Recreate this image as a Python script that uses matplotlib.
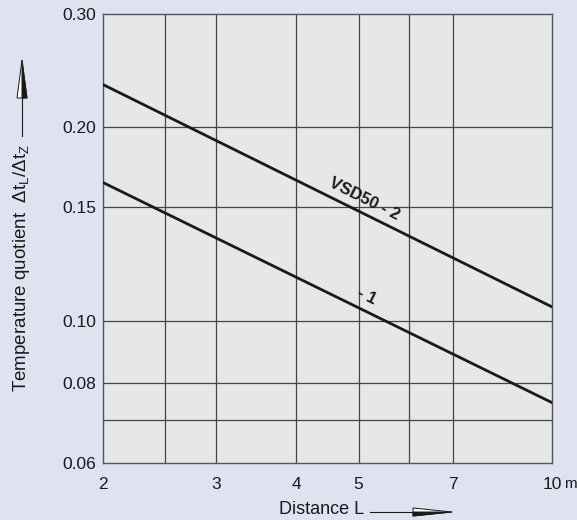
import matplotlib.pyplot as plt
from matplotlib.patches import Polygon
from matplotlib.ticker import FixedLocator, NullLocator

# data (log-log)
distance = [2, 10]
vsd50_2 = [0.233, 0.105]
vsd50_1 = [0.164, 0.0745]

x_ticks = [2, 3, 4, 5, 7, 10]
x_labels = ['2', '3', '4', '5', '7', '10']
x_grid = [2.5, 3, 4, 5, 6, 7]
y_ticks = [0.06, 0.08, 0.10, 0.15, 0.20, 0.30]
y_labels = ['0.06', '0.08', '0.10', '0.15', '0.20', '0.30']
y_grid = [0.07, 0.08, 0.10, 0.15, 0.20]

bg = '#dfe3f1'
face = '#e6e7e9'
ink = '#1a1a1a'

plt.rcParams['font.family'] = ['Liberation Sans', 'DejaVu Sans']
plt.rcParams['mathtext.fontset'] = 'custom'
plt.rcParams['mathtext.rm'] = 'Liberation Sans'
plt.rcParams['mathtext.it'] = 'Liberation Sans'

fig = plt.figure(figsize=(5.77, 5.20), dpi=100, facecolor=bg)
ax = fig.add_axes([0.1785, 0.1096, 0.7782, 0.8634], facecolor=face)
ax.set_xscale('log')
ax.set_yscale('log')
ax.set_xlim(2, 10)
ax.set_ylim(0.06, 0.30)

for gx in x_grid:
    ax.axvline(gx, color='#444444', lw=0.9, zorder=1)
for gy in y_grid:
    ax.axhline(gy, color='#444444', lw=0.9, zorder=1)

ax.plot(distance, vsd50_2, color=ink, lw=2.0, zorder=3)
ax.plot(distance, vsd50_1, color=ink, lw=2.0, zorder=3)

ax.text(5.10, 0.1545, 'VSD50 - 2', rotation=-26.4, ha='center', va='center',
        fontsize=12, fontweight='bold', color=ink, zorder=4)
ax.text(5.15, 0.109, '- 1', rotation=-26.4, ha='center', va='center',
        fontsize=12, fontweight='bold', color=ink, zorder=4)

ax.xaxis.set_major_locator(FixedLocator(x_ticks))
ax.xaxis.set_minor_locator(NullLocator())
ax.set_xticklabels(x_labels)
ax.yaxis.set_major_locator(FixedLocator(y_ticks))
ax.yaxis.set_minor_locator(NullLocator())
ax.set_yticklabels(y_labels)
ax.tick_params(length=0, labelsize=12.5, colors=ink)
ax.tick_params(axis='x', pad=10)
ax.tick_params(axis='y', pad=5)
for s in ax.spines.values():
    s.set_color('#555555')
    s.set_linewidth(1.0)

# unit after the last x tick
W, H = 577, 520
fig.text(570.5 / W, 1 - 484.5 / H, 'm', ha='center', va='center', fontsize=11, color=ink)

# axis labels with arrows, placed in figure pixels
fig.text(22 / W, 1 - 268 / H, r'Temperature quotient  $\Delta \mathregular{t_L}/\Delta \mathregular{t_Z}$',
         rotation=90, ha='center', va='center', fontsize=13.5, color=ink)
fig.add_artist(plt.Line2D([22 / W, 22 / W], [1 - 136 / H, 1 - 95 / H], color=ink, lw=0.8))
fig.add_artist(Polygon([(17 / W, 1 - 98 / H), (27 / W, 1 - 98 / H), (22 / W, 1 - 60 / H)],
                       closed=True, fc='white', ec=ink, lw=0.7))
fig.add_artist(Polygon([(22 / W, 1 - 98 / H), (27 / W, 1 - 98 / H), (22 / W, 1 - 60 / H)],
                       closed=True, fc=ink, ec=ink, lw=0.7))

fig.text(322 / W, 1 - 510 / H, 'Distance L', ha='center', va='center', fontsize=13, color=ink)
fig.add_artist(plt.Line2D([370 / W, 415 / W], [1 - 512 / H, 1 - 512 / H], color=ink, lw=0.8))
fig.add_artist(Polygon([(413 / W, 1 - 508 / H), (413 / W, 1 - 516 / H), (452 / W, 1 - 512 / H)],
                       closed=True, fc='white', ec=ink, lw=0.7))
fig.add_artist(Polygon([(413 / W, 1 - 512 / H), (413 / W, 1 - 516 / H), (452 / W, 1 - 512 / H)],
                       closed=True, fc=ink, ec=ink, lw=0.7))

fig.savefig('out.png', dpi=100, facecolor=bg)
